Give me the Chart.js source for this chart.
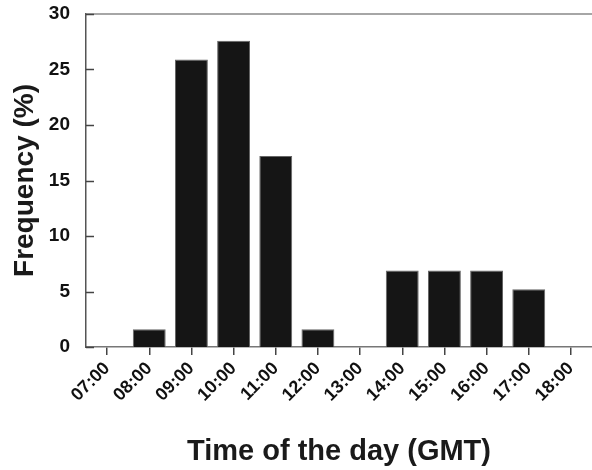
<!DOCTYPE html>
<html>
<head>
<meta charset="utf-8">
<script src="https://cdn.jsdelivr.net/npm/chart.js@4/dist/chart.umd.min.js"></script>
<style>
  html, body { margin: 0; padding: 0; background: #fff; }
  #wrap { width: 592px; height: 470px; }
</style>
</head>
<body>
<div id="wrap"><canvas id="freqChart"></canvas></div>
<script>
// hours of the day (GMT)
var hours = ["07:00","08:00","09:00","10:00","11:00","12:00","13:00","14:00","15:00","16:00","17:00","18:00"];
// frequency (%)
var freq = [0, 1.6, 25.9, 27.6, 17.2, 1.6, 0, 6.9, 6.9, 6.9, 5.2, 0];
var yTicks = [0, 5, 10, 15, 20, 25, 30];

var FONT = "'Liberation Sans', Arial, Helvetica, sans-serif";

// top frame line + inward y tick marks
var frame = {
  id: 'frame',
  afterDraw: function(chart) {
    var a = chart.chartArea, ctx = chart.ctx, y = chart.scales.y;
    ctx.save();
    ctx.strokeStyle = '#888';
    ctx.lineWidth = 1.5;
    ctx.beginPath();
    ctx.moveTo(a.left, a.top);
    ctx.lineTo(a.right, a.top);
    ctx.stroke();
    ctx.strokeStyle = '#444';
    ctx.beginPath();
    y.ticks.forEach(function(t) {
      var py = Math.round(y.getPixelForValue(t.value)) + 0.5;
      ctx.moveTo(a.left, py);
      ctx.lineTo(a.left + 8, py);
    });
    ctx.stroke();
    ctx.restore();
  }
};

new Chart(document.getElementById('freqChart'), {
  type: 'bar',
  data: {
    labels: hours,
    datasets: [{
      data: freq,
      backgroundColor: '#151515',
      borderColor: '#666',
      borderWidth: 1,
      barPercentage: 0.78,
      categoryPercentage: 1.0
    }]
  },
  options: {
    responsive: true,
    maintainAspectRatio: false,
    animation: false,
    layout: { padding: { top: 14, right: 0, left: 0, bottom: 1 } },
    plugins: { legend: { display: false }, tooltip: { enabled: false } },
    scales: {
      x: {
        grid: { display: true, offset: false, drawOnChartArea: false, drawTicks: true, tickLength: 8, color: '#444', lineWidth: 1.5 },
        border: { display: true, color: '#777', width: 1.5 },
        ticks: {
          color: '#111',
          font: { family: FONT, size: 18, weight: 'bold' },
          maxRotation: 45, minRotation: 45, padding: 3
        },
        title: {
          display: true,
          text: 'Time of the day (GMT)',
          color: '#1a1a1a',
          font: { family: FONT, size: 29, weight: 'bold' },
          padding: { top: 10, bottom: 0 }
        },
        afterFit: function(s) { s.height = 122; }
      },
      y: {
        min: 0, max: 30,
        afterBuildTicks: function(s) { s.ticks = yTicks.map(function(v) { return { value: v }; }); },
        grid: { display: false },
        border: { display: true, color: '#555', width: 1.5 },
        ticks: {
          color: '#111',
          font: { family: FONT, size: 19, weight: 'bold' },
          padding: 8
        },
        title: {
          display: true,
          text: 'Frequency (%)',
          color: '#1a1a1a',
          font: { family: FONT, size: 28, weight: 'bold' },
          padding: { top: 8, bottom: 0 }
        },
        afterFit: function(s) { s.width = 86; s.paddingTop = 0; }
      }
    }
  },
  plugins: [frame]
});
</script>
</body>
</html>
